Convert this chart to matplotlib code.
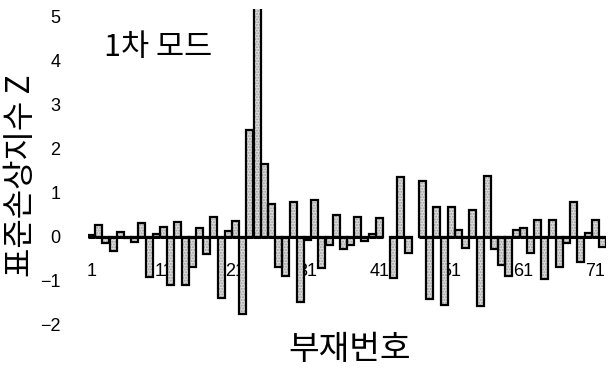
import numpy as np
import matplotlib
matplotlib.use("Agg")
import matplotlib.pyplot as plt

# Standardised damage index Z for each member, first mode (NaN = no value)
members = np.arange(1, 73)
z_index = [
    0.04, 0.27, -0.15, -0.33, 0.11, -0.03, -0.12, 0.30, -0.92, 0.06,
    0.22, -1.10, 0.33, -1.10, -0.70, 0.20, -0.40, 0.45, -1.40, 0.13,
    0.35, -1.76, 2.42, 5.50, 1.65, 0.74, -0.70, -0.90, 0.79, -1.49,
    -0.08, 0.83, -0.72, -0.19, 0.48, -0.29, -0.18, 0.44, -0.09, 0.07,
    0.42, np.nan, -0.95, 1.36, -0.37, np.nan, 1.27, -1.42, 0.67, -1.56,
    0.67, 0.15, -0.25, 0.60, -1.58, 1.37, -0.27, -0.65, -0.90, 0.15,
    0.20, -0.38, 0.38, -0.97, 0.38, -0.68, -0.14, 0.78, -0.57, 0.08,
    0.38, -0.23,
]
x_ticks = [1, 11, 21, 31, 41, 51, 61, 71]
y_ticks = [-2, -1, 0, 1, 2, 3, 4, 5]

title_text = "1차 모드"
x_title = "부재번호"
y_title = "표준손상지수 Z"

kr = ["Noto Sans CJK KR", "DejaVu Sans"]
num_font = "Liberation Sans"

W, H = 608, 372
fig = plt.figure(figsize=(W / 100, H / 100), dpi=100)
ax = fig.add_axes([88 / W, 0.0, (606 - 88) / W, (H - 9) / H])

z = np.array(z_index, dtype=float)
ok = ~np.isnan(z)
bar_w = 0.97

# stippled grey fill, then black outlines on top
ax.bar(members[ok], z[ok], width=bar_w, color="#dedede", edgecolor="#9c9c9c",
       hatch="......", linewidth=0, zorder=2)
ax.bar(members[ok], z[ok], width=bar_w, facecolor="none", edgecolor="black",
       linewidth=1.6, zorder=3)
# baseline only under members that carry a value
ax.hlines(np.zeros(ok.sum()), members[ok] - 0.5, members[ok] + 0.5,
          colors="black", linewidth=2.2, zorder=4)

ax.set_xlim(0.5, 72.5)
ax.set_ylim(-3.07, 5.16)

for s in ["top", "right", "left"]:
    ax.spines[s].set_visible(False)
ax.spines["bottom"].set_position(("data", 0))
ax.spines["bottom"].set_visible(False)

ax.set_xticks(x_ticks)
ax.set_xticklabels([str(t) for t in x_ticks], fontname=num_font, fontsize=13)
ax.set_yticks(y_ticks)
ax.set_yticklabels([str(t) if t >= 0 else "\u2212" + str(-t) for t in y_ticks],
                   fontname=num_font, fontsize=13)
ax.tick_params(axis="x", length=0, pad=19)
ax.tick_params(axis="y", length=0, pad=20)
# member numbers sit underneath the bars
ax.xaxis.set_zorder(1)

ax.text(0.03, 0.893, title_text, transform=ax.transAxes, fontsize=22,
        family=kr, ha="left", va="center")

fig.text(350 / W, 1 - 350 / H, x_title, fontsize=24, family=kr,
         ha="center", va="center")
fig.text(21 / W, 1 - 176 / H, y_title, fontsize=23, family=kr,
         ha="center", va="center", rotation=90)

fig.savefig("out.png", dpi=100)
